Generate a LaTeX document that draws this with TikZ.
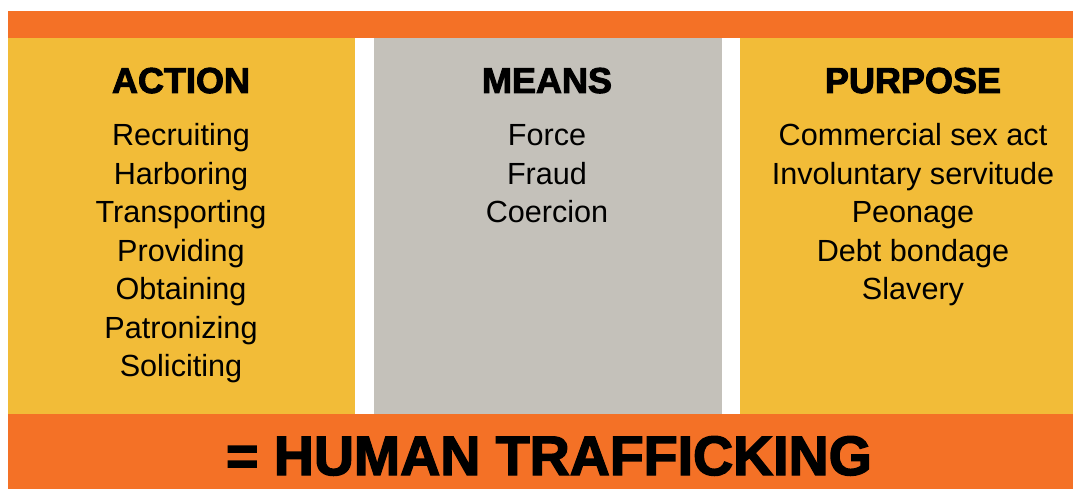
\documentclass[tikz,border=0pt]{standalone}
\usepackage{fontspec}
\setmainfont{Liberation Sans}
\newfontfamily\heavyfont{Liberation Sans}[FakeBold=2.6]
\definecolor{tOrange}{RGB}{244,113,38}
\definecolor{tYellow}{RGB}{242,188,56}
\definecolor{tGray}{RGB}{196,193,186}
\begin{document}
\begin{tikzpicture}[x=1pt,y=-1pt,
  band/.style={fill=tOrange,draw=none},
  panelY/.style={fill=tYellow,draw=none},
  panelG/.style={fill=tGray,draw=none},
  head/.style={anchor=base,inner sep=0pt,font=\heavyfont\bfseries\fontsize{36}{40}\selectfont},
  item/.style={anchor=base,inner sep=0pt,font=\fontsize{30.6}{34}\selectfont},
  total/.style={anchor=base,inner sep=0pt,font=\heavyfont\bfseries\fontsize{55.5}{60}\selectfont}]
\useasboundingbox (0,0) rectangle (1073,489);
\fill[white] (0,0) rectangle (1073,489);
% bands and panels
\path[band] (8,11) rectangle (1073,38);
\path[panelY] (8,38) rectangle (355,414);
\path[panelG] (374,38) rectangle (722,414);
\path[panelY] (740,38) rectangle (1073,414);
\path[band] (8,414) rectangle (1073,489);
% headers
\node[head] (hA) at (181,93) {ACTION};
\node[head] (hM) at (547,93) {MEANS};
\node[head] (hP) at (913,93) {PURPOSE};
% action items
\node[item] (a1) at (181,146) {Recruiting};
\node[item] (a2) at (181,184.4) {Harboring};
\node[item] (a3) at (181,222.8) {Transporting};
\node[item] (a4) at (181,261.2) {Providing};
\node[item] (a5) at (181,299.6) {Obtaining};
\node[item] (a6) at (181,338) {Patronizing};
\node[item] (a7) at (181,376.4) {Soliciting};
% means items
\node[item] (m1) at (547,146) {Force};
\node[item] (m2) at (547,184.4) {Fraud};
\node[item] (m3) at (547,222.8) {Coercion};
% purpose items
\node[item] (p1) at (913,146) {Commercial sex act};
\node[item] (p2) at (913,184.4) {Involuntary servitude};
\node[item] (p3) at (913,222.8) {Peonage};
\node[item] (p4) at (913,261.2) {Debt bondage};
\node[item] (p5) at (913,299.6) {Slavery};
% total
\node[total] (tot) at (549,475) {= HUMAN TRAFFICKING};
\end{tikzpicture}
\end{document}
